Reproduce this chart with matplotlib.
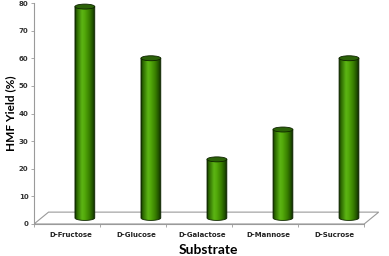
import numpy as np
import matplotlib
matplotlib.use("Agg")
import matplotlib.pyplot as plt
from matplotlib.patches import Ellipse, Polygon, PathPatch
from matplotlib.path import Path
from matplotlib.colors import LinearSegmentedColormap

# data
substrates = ["D-Fructose", "D-Glucose", "D-Galactose", "D-Mannose", "D-Sucrose"]
hmf_yield = [76.5, 57.8, 21.2, 32.0, 57.8]
yticks = [0, 10, 20, 30, 40, 50, 60, 70, 80]

# 3d-ish layout settings (data units)
depth_dx = 0.22
depth_dy = 4.3
bar_off = 0.27
bar_w = 0.30
base_y = 2.2
cap_h = 1.8

fig = plt.figure(figsize=(3.89, 2.56), dpi=100)
ax = fig.add_axes([34/389, 32/256, 348/389, 221/256])

# floor
floor = Polygon([(-0.5, 0), (-0.5 + depth_dx, depth_dy), (4.5 + depth_dx, depth_dy), (4.5, 0)],
                closed=True, facecolor="white", edgecolor="#9a9a9a", linewidth=0.8, zorder=1)
ax.add_patch(floor)

cmap = LinearSegmentedColormap.from_list("cyl", [
    (0.0, "#0f2a00"), (0.08, "#2a6400"), (0.35, "#5cb514"),
    (0.5, "#52a80a"), (0.75, "#357a00"), (0.92, "#1d4a00"), (1.0, "#0a1e00")])
grad = np.linspace(0, 1, 64).reshape(1, -1)

for i, v in enumerate(hmf_yield):
    xc = i + bar_off
    x0, x1 = xc - bar_w / 2, xc + bar_w / 2
    top = base_y + v
    # body: rectangle with rounded bottom
    t = np.linspace(np.pi, 2 * np.pi, 30)
    bottom = [(xc + bar_w / 2 * np.cos(a), base_y + cap_h / 2 * np.sin(a)) for a in t]
    verts = [(x0, top)] + bottom + [(x1, top), (x0, top)]
    codes = [Path.MOVETO] + [Path.LINETO] * (len(verts) - 2) + [Path.CLOSEPOLY]
    body = PathPatch(Path(verts, codes), facecolor="none", edgecolor="#102800",
                     linewidth=0.6, zorder=3)
    ax.add_patch(body)
    im = ax.imshow(grad, cmap=cmap, aspect="auto", extent=(x0, x1, base_y - cap_h, top),
                   zorder=2, interpolation="bilinear")
    im.set_clip_path(body)
    cap = Ellipse((xc, top), bar_w, cap_h, facecolor="#2b6208", edgecolor="#0e2400",
                  linewidth=0.6, zorder=4)
    ax.add_patch(cap)

ax.set_xlim(-0.5, 4.5 + depth_dx + 0.05)
ax.set_ylim(0, 80)

for s in ["top", "right", "bottom"]:
    ax.spines[s].set_visible(False)
ax.spines["left"].set_color("#9a9a9a")
ax.spines["left"].set_linewidth(0.8)

ax.set_yticks(yticks)
ax.set_yticklabels([str(v) for v in yticks], fontsize=5, fontweight="bold", color="#333333")
ax.tick_params(axis="y", length=2, width=0.6, color="#9a9a9a", pad=2)

ax.set_xticks(np.arange(len(substrates)) + 0.05)
ax.set_xticklabels(substrates, fontsize=5, fontweight="bold", color="#222222")
ax.tick_params(axis="x", length=0, pad=6)
# category boundary ticks on front edge
ax.set_xticks(np.arange(-0.5, 5.0, 1.0), minor=True)
ax.tick_params(axis="x", which="minor", length=2, width=0.6, color="#9a9a9a")
ax.plot([-0.5, 4.5], [0, 0], color="#9a9a9a", linewidth=0.8, zorder=1, clip_on=False)

ax.set_ylabel("HMF Yield (%)", fontsize=8.5, fontweight="bold", family="Lato", labelpad=2)
ax.set_xlabel("Substrate", fontsize=10, fontweight="bold", family="Lato", labelpad=4)

plt.savefig("out.png", dpi=100)
